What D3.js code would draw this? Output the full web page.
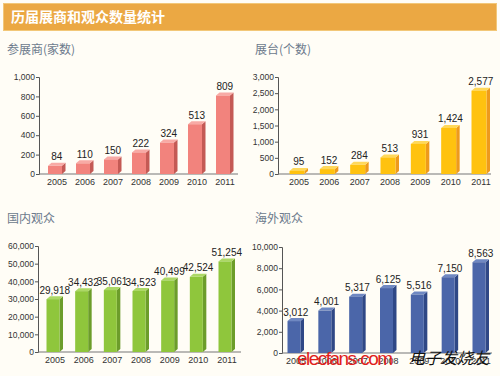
<!DOCTYPE html>
<html>
  <head>
    <meta charset="utf-8">
    <title>历届展商和观众数量统计</title>
    <script src="https://d3js.org/d3.v7.min.js"></script>
    <style>
      body { margin: 0; background: #fffdf6; }
      svg { display: block; }
    </style>
  </head>
  <body>
    <script>
      // ====================================
      // 历届展商和观众数量统计 ~ four 3D bar charts
      // ====================================

      const years = ["2005", "2006", "2007", "2008", "2009", "2010", "2011"];

      const exhibitors = [84, 110, 150, 222, 324, 513, 809];
      const booths = [95, 152, 284, 513, 931, 1424, 2577];
      const domesticVisitors = [29918, 34432, 35061, 34523, 40499, 42524, 51254];
      const overseasVisitors = [3012, 4001, 5317, 6125, 5516, 7150, 8563];

      const exhibitorTicks = [0, 200, 400, 600, 800, 1000];
      const boothTicks = [0, 500, 1000, 1500, 2000, 2500, 3000];
      const domesticTicks = [0, 10000, 20000, 30000, 40000, 50000, 60000];
      const overseasTicks = [0, 2000, 4000, 6000, 8000, 10000];

      const width = 500;
      const height = 376;
      const font = "'Liberation Sans', Arial, sans-serif";
      const cjk = "'Noto Sans CJK SC', sans-serif";
      const fmt = d3.format(",");

      const svg = d3.select("body")
        .append("svg")
          .attr("width", width)
          .attr("height", height);

      // header bar
      svg.append("rect")
        .attr("x", 3.5).attr("y", 3.5)
        .attr("width", 493).attr("height", 27)
        .attr("fill", "#eba843")
        .attr("stroke", "#f2c778");

      svg.append("text")
        .attr("x", 11).attr("y", 22)
        .attr("fill", "#fff")
        .style("font-family", cjk)
        .style("font-size", "14px")
        .style("font-weight", "bold")
        .text("历届展商和观众数量统计");

      function drawPanel(opts) {
        const g = svg.append("g");

        g.append("text")
          .attr("x", opts.titleX).attr("y", opts.titleY)
          .attr("fill", "#6c7a8c")
          .style("font-family", cjk)
          .style("font-size", "12px")
          .text(opts.title);

        const x = d3.scalePoint()
          .domain(years)
          .range([opts.x0, opts.x1]);

        const y = d3.scaleLinear()
          .domain([0, opts.max])
          .range([opts.yBottom, opts.yTop]);

        const yAxis = d3.axisLeft(y)
          .tickValues(opts.ticks)
          .tickFormat(fmt)
          .tickSize(3)
          .tickPadding(1);

        const ya = g.append("g")
          .attr("transform", "translate(" + opts.axisX + ",0)")
          .call(yAxis);
        ya.select(".domain").attr("stroke", "#555");
        ya.selectAll(".tick line").attr("stroke", "#555");
        ya.selectAll("text")
          .attr("fill", "#333")
          .style("font-family", font)
          .style("font-size", "8.5px");

        // x axis line
        g.append("line")
          .attr("x1", opts.axisX).attr("x2", opts.axisEnd)
          .attr("y1", opts.yBottom).attr("y2", opts.yBottom)
          .attr("stroke", "#777")
          .attr("stroke-width", 1.2);

        g.selectAll(".xlab")
          .data(years)
          .enter().append("text")
            .attr("x", function(d) { return x(d) + 2; })
            .attr("y", opts.yBottom + 11)
            .attr("text-anchor", "middle")
            .attr("fill", "#333")
            .style("font-family", font)
            .style("font-size", "9px")
            .text(function(d) { return d; });

        const bw = opts.barWidth;
        const dx = 3.5, dy = 3;

        const bars = g.selectAll(".bar")
          .data(opts.values)
          .enter().append("g");

        // side face
        bars.append("path")
          .attr("d", function(d, i) {
            const l = x(years[i]) - bw / 2, r = l + bw, t = y(d), b = y(0);
            return "M" + r + "," + t + "L" + (r + dx) + "," + (t - dy) +
              "L" + (r + dx) + "," + (b - dy) + "L" + r + "," + b + "Z";
          })
          .attr("fill", opts.side);

        // top face
        bars.append("path")
          .attr("d", function(d, i) {
            const l = x(years[i]) - bw / 2, r = l + bw, t = y(d);
            return "M" + l + "," + t + "L" + (l + dx) + "," + (t - dy) +
              "L" + (r + dx) + "," + (t - dy) + "L" + r + "," + t + "Z";
          })
          .attr("fill", opts.top);

        // front face
        bars.append("rect")
          .attr("x", function(d, i) { return x(years[i]) - bw / 2; })
          .attr("y", function(d) { return y(d); })
          .attr("width", bw)
          .attr("height", function(d) { return y(0) - y(d); })
          .attr("fill", opts.front);

        bars.append("text")
          .attr("x", function(d, i) { return x(years[i]) + dx / 2; })
          .attr("y", function(d) { return y(d) - dy - 2.5; })
          .attr("text-anchor", "middle")
          .attr("fill", "#222")
          .style("font-family", font)
          .style("font-size", "10px")
          .text(function(d) { return fmt(d); });
      }

      drawPanel({
        title: "参展商(家数)", titleX: 7, titleY: 54,
        values: exhibitors, ticks: exhibitorTicks, max: 1000,
        axisX: 39, axisEnd: 238, x0: 55, x1: 223,
        yTop: 77, yBottom: 174, barWidth: 14,
        front: "#f2837d", side: "#c45a55", top: "#f8aaa5"
      });

      drawPanel({
        title: "展台(个数)", titleX: 255, titleY: 54,
        values: booths, ticks: boothTicks, max: 3000,
        axisX: 278, axisEnd: 491, x0: 297, x1: 479,
        yTop: 77, yBottom: 174, barWidth: 15,
        front: "#ffc20f", side: "#ee9a1c", top: "#ffd85a"
      });

      drawPanel({
        title: "国内观众", titleX: 7, titleY: 223,
        values: domesticVisitors, ticks: domesticTicks, max: 60000,
        axisX: 38, axisEnd: 241, x0: 53, x1: 225,
        yTop: 246, yBottom: 352, barWidth: 13,
        front: "#8fc63c", side: "#6c9d2a", top: "#acd865"
      });

      drawPanel({
        title: "海外观众", titleX: 255, titleY: 223,
        values: overseasVisitors, ticks: overseasTicks, max: 10000,
        axisX: 282, axisEnd: 492, x0: 294, x1: 479,
        yTop: 247, yBottom: 353, barWidth: 13,
        front: "#4b66a9", side: "#2f4886", top: "#6f88c2"
      });

      // watermark
      svg.append("text")
        .attr("x", 297).attr("y", 365)
        .attr("fill", "#e0201a")
        .attr("textLength", 96)
        .style("font-family", font)
        .style("font-size", "19px")
        .text("elecfans·com");

      svg.append("text")
        .attr("x", 409).attr("y", 364)
        .attr("fill", "#111")
        .attr("textLength", 80)
        .style("font-family", cjk)
        .style("font-size", "16px")
        .style("font-style", "italic")
        .text("电子发烧友");
    </script>
  </body>
</html>
